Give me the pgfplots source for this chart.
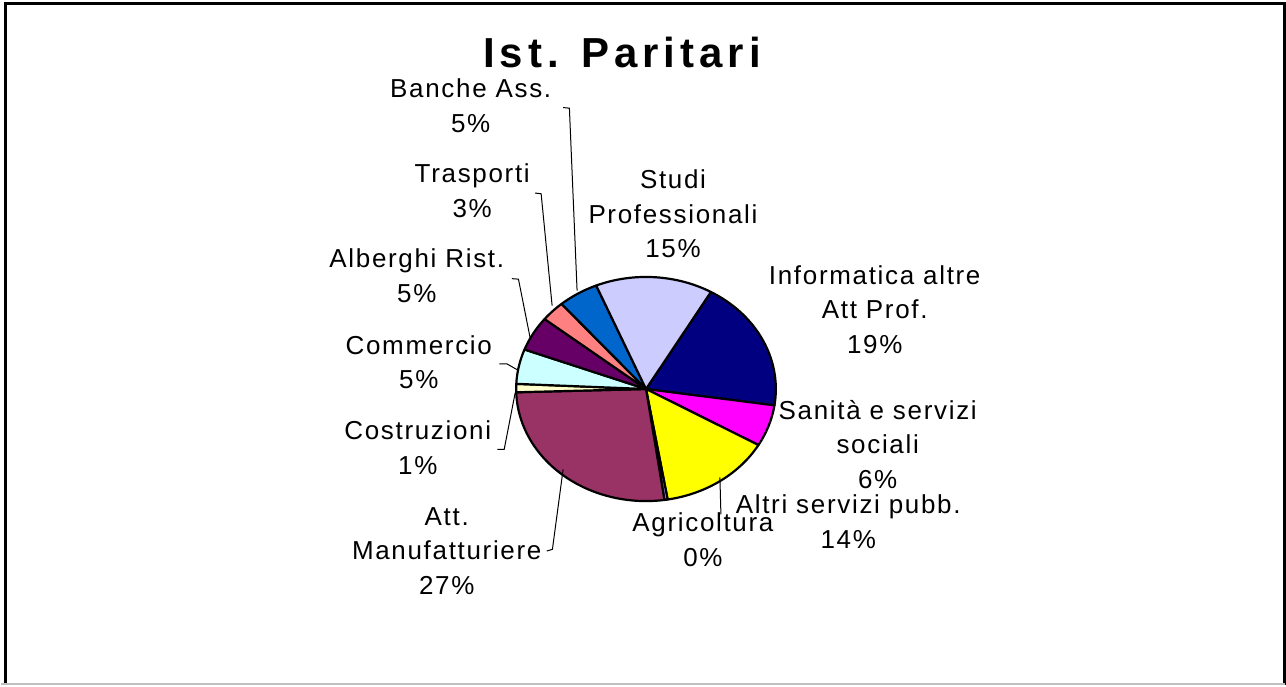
\documentclass[border=0pt]{standalone}
\usepackage{pgfplots}
\pgfplotsset{compat=1.18}
\usepackage{fontspec}
\setmainfont{Liberation Sans}
\newfontfamily\lab{Liberation Sans}[LetterSpace=6.5]
\newfontfamily\ttl{Liberation Sans}[LetterSpace=12]
\definecolor{cStudi}{HTML}{CCCCFF}
\definecolor{cInfo}{HTML}{000080}
\definecolor{cSan}{HTML}{FF00FF}
\definecolor{cAltri}{HTML}{FFFF00}
\definecolor{cAgri}{HTML}{9999FF}
\definecolor{cManu}{HTML}{993366}
\definecolor{cCostr}{HTML}{FFFFCC}
\definecolor{cComm}{HTML}{CCFFFF}
\definecolor{cAlb}{HTML}{660066}
\definecolor{cTrasp}{HTML}{FF8080}
\definecolor{cBanche}{HTML}{0066CC}
% pie geometry (pixel units of the reference)
\def\cx{646}\def\cy{296.5}\def\rx{130}\def\ry{112.2}
\def\startang{30}% first slice starts 30 deg clockwise from 12 o'clock
\xdef\cum{0}
\newcommand{\slice}[2]{%
  \pgfmathsetmacro\da{90-\startang-3.6*(\cum+#2)}%
  \pgfmathsetmacro\db{90-\startang-3.6*\cum}%
  \addplot[draw=black, line width=1.1pt, fill=#1, line join=round,
    domain=\da:\db, samples=90]
    ({\cx+\rx*cos(x)},{\cy+\ry*sin(x)}) -- (axis cs:\cx,\cy) -- cycle;
  \pgfmathsetmacro\tmp{\cum+#2}\xdef\cum{\tmp}%
}
\begin{document}
\begin{tikzpicture}
\begin{axis}[
  scale only axis, width=643pt, height=343pt,
  xmin=0, xmax=1286, ymin=0, ymax=686,
  hide axis, clip=false,
]
\path (axis cs:0,0) rectangle (axis cs:1286,686);
% frame
\draw[line width=1.5pt] (axis cs:5,0) -- (axis cs:5,682) -- (axis cs:1285,682) -- (axis cs:1285,0);
\draw[gray!50, line width=0.8pt] (axis cs:0,1) -- (axis cs:1286,1);
% slices, clockwise
\slice{cInfo}{19.0}
\slice{cSan}{6.0}
\slice{cAltri}{14.0}
\slice{cAgri}{0.4}
\slice{cManu}{26.8}
\slice{cCostr}{1.2}
\slice{cComm}{5.0}
\slice{cAlb}{5.0}
\slice{cTrasp}{3.0}
\slice{cBanche}{5.0}
\slice{cStudi}{14.6}
% leader lines
\draw[line width=0.5pt] (axis cs:563,578.3) -- (axis cs:569.3,577.7) -- (axis cs:577,395);
\draw[line width=0.5pt] (axis cs:535,492.7) -- (axis cs:541,492) -- (axis cs:552,380);
\draw[line width=0.5pt] (axis cs:511.7,407) -- (axis cs:518.3,406.5) -- (axis cs:530,347.7);
\draw[line width=0.5pt] (axis cs:499.3,321.7) -- (axis cs:506.7,321.7) -- (axis cs:516.7,316);
\draw[line width=0.5pt] (axis cs:497.3,236) -- (axis cs:504,236) -- (axis cs:515,292.7);
\draw[line width=0.5pt] (axis cs:546.7,134.3) -- (axis cs:552.3,136) -- (axis cs:563,216);
\draw[line width=0.5pt] (axis cs:720,208) -- (axis cs:721,171);
% title
\node[font=\ttl\bfseries\fontsize{21}{25}\selectfont] at (axis cs:622,633) {Ist. Paritari};
% labels
\tikzset{lbl/.style={align=center, font=\lab\fontsize{13}{17.3}\selectfont, inner sep=0pt}}
\node[lbl] at (axis cs:470.5,580.2) {Banche Ass.\\5\%};
\node[lbl] at (axis cs:472,495.2) {Trasporti\\3\%};
\node[lbl] at (axis cs:416.5,410.2) {Alberghi Rist.\\5\%};
\node[lbl] at (axis cs:418.5,323.5) {Commercio\\5\%};
\node[lbl] at (axis cs:417.5,237.7) {Costruzioni\\1\%};
\node[lbl] at (axis cs:446.5,134.3) {Att.\\Manufatturiere\\27\%};
\node[lbl] at (axis cs:673,471.7) {Studi\\Professionali\\15\%};
\node[lbl] at (axis cs:875,376) {Informatica altre\\Att Prof.\\19\%};
\node[lbl] at (axis cs:878,241) {Sanità e servizi\\sociali\\6\%};
\node[lbl] at (axis cs:848.5,163.5) {Altri servizi pubb.\\14\%};
\node[lbl] at (axis cs:703,145.5) {Agricoltura\\0\%};
\end{axis}
\end{tikzpicture}
\end{document}
